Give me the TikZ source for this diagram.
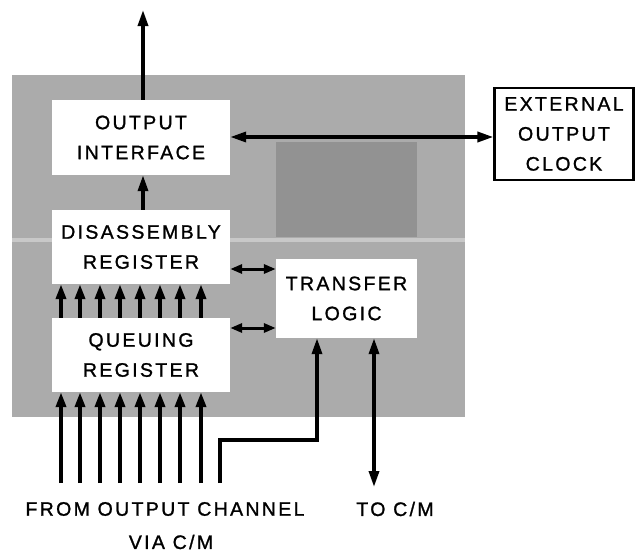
\documentclass[tikz,border=0pt]{standalone}
\usepackage{fontspec}
\setmainfont{Liberation Sans}[LetterSpace=12,FakeBold=1.2]
\usetikzlibrary{arrows.meta}
\definecolor{halftone}{HTML}{ABABAB}
\definecolor{darktone}{HTML}{929292}
\definecolor{lighttone}{HTML}{C8C8C8}
\begin{document}
\begin{tikzpicture}[x=1pt,y=-1pt,
  lbl/.style={font=\fontsize{19.5}{30}\selectfont,align=center,inner sep=0pt},
  blk/.style={fill=white,draw=none,lbl},
  arr/.style={line width=3.4pt,-{Triangle[length=16pt,width=10pt]}},
  darr/.style={line width=3.4pt,{Triangle[length=16pt,width=10pt]}-{Triangle[length=16pt,width=10pt]}},
  sarr/.style={line width=3pt,{Triangle[length=12pt,width=9pt]}-{Triangle[length=12pt,width=9pt]}},
  barr/.style={line width=3.6pt,-{Triangle[length=15pt,width=10pt]}}]
\useasboundingbox (0,0) rectangle (635,554);
% background halftone
\fill[halftone] (12,75) rectangle (465,417);
\fill[darktone] (276,142) rectangle (417,237);
\fill[lighttone] (12,238) rectangle (465,242);
% boxes
\node[blk,minimum width=178pt,minimum height=75pt] (oi) at (141,137.5) {OUTPUT\\INTERFACE};
\node[blk,minimum width=178pt,minimum height=74pt] (dr) at (141,247) {DISASSEMBLY\\REGISTER};
\node[blk,minimum width=178pt,minimum height=74pt] (qr) at (141,355) {QUEUING\\REGISTER};
\node[blk,minimum width=141pt,minimum height=79pt] (tl) at (346.5,298.5) {TRANSFER\\LOGIC};
\node[lbl,draw,line width=2.2pt,minimum width=139pt,minimum height=92pt] (clk) at (564,134) {EXTERNAL\\OUTPUT\\CLOCK};
% top output
\coordinate (top) at (143,10);
\draw[arr] (oi.north -| top) -- (top);
\draw[arr] (dr.north -| top) -- (oi.south -| top);
% clock connection
\draw[darr] (oi.east |- 0,137) -- (clk.west |- 0,137);
% register to transfer logic
\draw[sarr] (dr.east |- 0,269) -- (tl.west |- 0,269);
\draw[sarr] (qr.east |- 0,328) -- (tl.west |- 0,328);
% eight bit lines
\foreach \i/\x in {1/61,2/80,3/100,4/120,5/140,6/160,7/180,8/201}{
  \coordinate (b\i) at (\x,483);
  \draw[barr] (qr.north -| b\i) -- (dr.south -| b\i);
  \draw[barr] (b\i) -- (qr.south -| b\i);
}
% control line into transfer logic
\coordinate (c0) at (220,483);
\coordinate (c1) at (317,440);
\draw[arr] (c0) |- (c1) -- (tl.south -| c1);
% to C/M
\coordinate (tcm) at (374,487);
\draw[darr] (tl.south -| tcm) -- (tcm);
% bottom labels
\node[lbl] (from) at (165,509) {FROM OUTPUT CHANNEL};
\node[lbl] (via) at (171,542) {VIA C/M};
\node[lbl] (to) at (395,509) {TO C/M};
\end{tikzpicture}
\end{document}
